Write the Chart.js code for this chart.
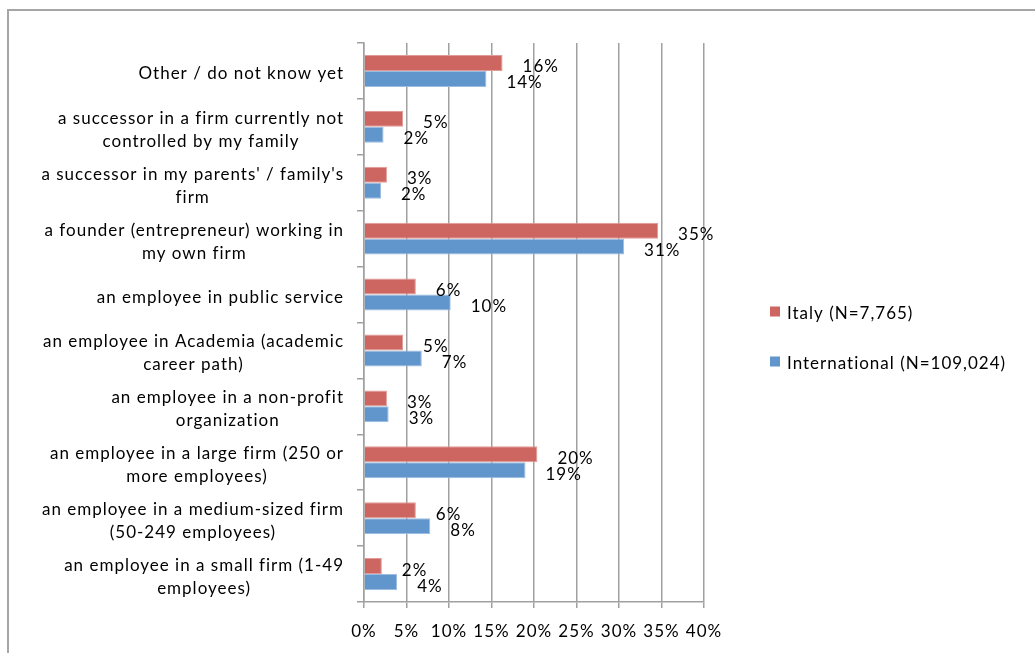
<!DOCTYPE html>
<html>
<head>
<meta charset="utf-8">
<script src="https://cdn.jsdelivr.net/npm/chart.js@4.4.1/dist/chart.umd.min.js"></script>
<style>
  html, body { margin: 0; padding: 0; background: #fff; overflow: hidden; }
  #wrap { position: relative; width: 1035px; height: 653px; }
  #frame { position: absolute; left: 7px; top: 9px; width: 1100px; height: 700px;
           border-left: 2px solid #a6a6a6; border-top: 2px solid #a6a6a6; }
  #chart { position: absolute; left: 0; top: 0; }
</style>
</head>
<body>
<div id="wrap">
  <div id="frame"></div>
  <canvas id="chart" width="1035" height="653"></canvas>
</div>
<script>
// career options, top to bottom
const categories = [
  ["Other / do not know yet"],
  ["a successor in a firm currently not", "controlled by my family"],
  ["a successor in my parents' / family's", "firm"],
  ["a founder (entrepreneur) working in", "my own firm"],
  ["an employee in public service"],
  ["an employee in Academia (academic", "career path)"],
  ["an employee in a non-profit", "organization"],
  ["an employee in a large firm (250 or", "more employees)"],
  ["an employee in a medium-sized firm", "(50-249 employees)"],
  ["an employee in a small firm (1-49", "employees)"]
];

// shares in %
const italy         = [16.3, 4.6, 2.7, 34.6, 6.1, 4.6, 2.7, 20.4, 6.1, 2.1];
const international = [14.4, 2.3, 2.0, 30.6, 10.2, 6.8, 2.9, 19.0, 7.8, 3.9];

const seriesNames = ["Italy (N=7,765)", "International (N=109,024)"];
const xTicks = [0, 5, 10, 15, 20, 25, 30, 35, 40];

const FONT = "Lato, 'Open Sans', sans-serif";
const FS = 17;
const SPACING = "1px";

// a bit of tracking on every text drawn in the canvas
const tracking = {
  id: "tracking",
  beforeUpdate(chart) { chart.ctx.letterSpacing = SPACING; },
  beforeDraw(chart) { chart.ctx.letterSpacing = SPACING; }
};

// percentage text just past the end of every bar
const valueLabels = {
  id: "valueLabels",
  afterDatasetsDraw(chart) {
    const ctx = chart.ctx;
    ctx.save();
    ctx.font = `${FS}px ${FONT}`;
    ctx.fillStyle = "#000";
    ctx.textAlign = "left";
    ctx.textBaseline = "middle";
    chart.data.datasets.forEach((ds, di) => {
      chart.getDatasetMeta(di).data.forEach((bar, i) => {
        ctx.fillText(Math.round(ds.data[i]) + "%", bar.x + 20, bar.y + 4);
      });
    });
    ctx.restore();
  }
};

// category names: block right aligned to the axis, lines centred inside the block
const categoryLabels = {
  id: "categoryLabels",
  afterDraw(chart) {
    const ctx = chart.ctx;
    const y = chart.scales.y;
    const right = chart.chartArea.left - 20;
    ctx.save();
    ctx.font = `${FS}px ${FONT}`;
    ctx.fillStyle = "#000";
    ctx.textAlign = "center";
    ctx.textBaseline = "middle";
    categories.forEach((lines, i) => {
      const cy = y.getPixelForTick(i);
      const w = Math.max(...lines.map(l => ctx.measureText(l).width));
      const cx = right - w / 2;
      lines.forEach((l, j) => {
        ctx.fillText(l, cx, cy + (j - (lines.length - 1) / 2) * 23 + 3);
      });
    });
    ctx.restore();
  }
};

// legend to the right of the plot, stacked vertically
const sideLegend = {
  id: "sideLegend",
  afterDraw(chart) {
    const ctx = chart.ctx;
    const area = chart.chartArea;
    const x = area.right + 66;
    const y0 = (area.top + area.bottom) / 2 - 11;
    ctx.save();
    ctx.font = `${FS}px ${FONT}`;
    ctx.fillStyle = "#000";
    ctx.textAlign = "left";
    ctx.textBaseline = "middle";
    chart.data.datasets.forEach((ds, i) => {
      const cy = y0 + i * 50;
      ctx.fillStyle = ds.backgroundColor;
      ctx.fillRect(x, cy - 5, 10, 10);
      ctx.fillStyle = "#000";
      ctx.fillText(ds.label, x + 17, cy + 2);
    });
    ctx.restore();
  }
};

new Chart(document.getElementById("chart"), {
  type: "bar",
  data: {
    labels: categories,
    datasets: [
      {
        label: seriesNames[0],
        data: italy,
        backgroundColor: "#cd6560",
        borderColor: "#e29a96",
        borderWidth: 1
      },
      {
        label: seriesNames[1],
        data: international,
        backgroundColor: "#6196cc",
        borderColor: "#9cbde0",
        borderWidth: 1
      }
    ]
  },
  options: {
    indexAxis: "y",
    responsive: false,
    animation: false,
    devicePixelRatio: 1,
    layout: { padding: { top: 43, right: 331, bottom: -2, left: 0 } },
    datasets: {
      bar: { categoryPercentage: 0.57, barPercentage: 1 }
    },
    plugins: {
      legend: { display: false },
      tooltip: { enabled: false }
    },
    scales: {
      x: {
        min: 0,
        max: 40,
        afterBuildTicks: (s) => { s.ticks = xTicks.map(v => ({ value: v })); },
        ticks: {
          color: "#000",
          padding: 15,
          font: { family: FONT, size: FS, lineHeight: 1 },
          callback: (v) => v + "%"
        },
        grid: { color: "#a0a0a0", lineWidth: 1.5, tickLength: 6 },
        border: { color: "#a0a0a0", width: 1.5 }
      },
      y: {
        afterFit: (s) => { s.width = 364; },
        ticks: {
          color: "rgba(0,0,0,0)",
          font: { family: FONT, size: FS }
        },
        grid: { drawOnChartArea: false, color: "#a0a0a0", lineWidth: 1.5, tickLength: 7 },
        border: { color: "#a0a0a0", width: 1.5 }
      }
    }
  },
  plugins: [tracking, valueLabels, categoryLabels, sideLegend]
});
</script>
</body>
</html>
